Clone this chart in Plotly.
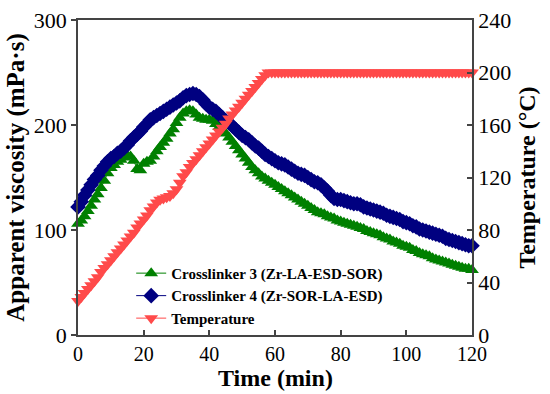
import plotly.graph_objects as go

time_min = list(range(0, 121))

temperature = [26, 29, 32, 35, 38, 41, 44, 48, 51, 54, 57, 60, 63, 66, 69, 72, 75, 78, 82, 85,
               88, 91, 95, 98, 101, 103, 104, 105, 106, 108, 111, 116, 121, 124, 128, 131, 134, 137, 140, 143,
               146, 149, 152, 155, 158, 161, 165, 168, 171, 174, 177, 180, 183, 186, 189, 192, 195, 198, 200, 200,
               200, 200, 200, 200, 200, 200, 200, 200, 200, 200, 200, 200, 200, 200, 200, 200, 200, 200, 200, 200,
               200, 200, 200, 200, 200, 200, 200, 200, 200, 200, 200, 200, 200, 200, 200, 200, 200, 200, 200, 200,
               200, 200, 200, 200, 200, 200, 200, 200, 200, 200, 200, 200, 200, 200, 200, 200, 200, 200, 200, 200,
               200]

crosslinker3 = [106, 109, 113, 118, 123, 129, 134, 140, 147, 154, 159, 162, 165, 167, 169, 171, 170, 166, 158, 157,
                163, 165, 166, 170, 175, 179, 183, 187, 192, 196, 202, 207, 211, 213, 214, 213, 210, 207, 206, 205,
                205, 204, 201, 198, 195, 192, 188, 184, 180, 176, 172, 168, 164, 160, 157, 154, 151, 149, 147, 145,
                143, 141, 139, 137, 135, 133, 131, 129, 127, 125, 123, 121, 119, 117, 116, 115, 113, 112, 111, 109,
                108, 107, 106, 105, 104, 103, 102, 101, 99, 98, 97, 96, 95, 93, 92, 91, 89, 88, 87, 85,
                84, 83, 81, 80, 78, 77, 76, 75, 73, 72, 71, 70, 69, 68, 67, 66, 65, 64, 63, 63,
                62]

crosslinker4 = [122, 127, 133, 138, 143, 148, 152, 157, 161, 165, 168, 170, 173, 175, 178, 181, 185, 188, 191, 194,
                198, 201, 205, 207, 209, 211, 213, 215, 217, 219, 221, 223, 226, 228, 229, 230, 229, 227, 224, 220,
                217, 215, 213, 210, 207, 204, 202, 199, 196, 193, 190, 188, 186, 183, 180, 178, 175, 172, 170, 168,
                166, 164, 163, 162, 160, 158, 156, 154, 153, 152, 150, 148, 146, 145, 143, 140, 137, 133, 130, 129,
                129, 128, 127, 126, 125, 125, 124, 122, 121, 120, 119, 118, 117, 116, 114, 113, 112, 111, 110, 108,
                107, 106, 104, 103, 101, 100, 99, 98, 97, 96, 95, 94, 92, 91, 90, 89, 88, 87, 86, 85,
                85]

x_ticks = [0, 20, 40, 60, 80, 100, 120]
y_ticks = [0, 100, 200, 300]
y2_ticks = [0, 40, 80, 120, 160, 200, 240]

x_title = "Time (min)"
y_title = "Apparent viscosity (mPa·s)"
y2_title = "Temperature (°C)"

SERIF = "Liberation Serif"
AXIS_COLOR = "#444444"

fig = go.Figure()
fig.add_trace(go.Scatter(
    x=time_min, y=crosslinker3, name="Crosslinker 3 (Zr-LA-ESD-SOR)",
    mode="lines+markers", cliponaxis=False,
    line=dict(color="#008000", width=1),
    marker=dict(symbol="triangle-up", size=12, color="#008000"),
))
fig.add_trace(go.Scatter(
    x=time_min, y=crosslinker4, name="Crosslinker 4 (Zr-SOR-LA-ESD)",
    mode="lines+markers", cliponaxis=False,
    line=dict(color="#000080", width=1),
    marker=dict(symbol="diamond", size=12, color="#000080"),
))
fig.add_trace(go.Scatter(
    x=time_min, y=temperature, name="Temperature", yaxis="y2",
    mode="lines+markers", cliponaxis=False,
    line=dict(color="#FF4A4A", width=1),
    marker=dict(symbol="triangle-down", size=12, color="#FF4A4A"),
))

fig.update_layout(
    width=550, height=394,
    margin=dict(l=78, r=78, t=20, b=59, autoexpand=False),
    paper_bgcolor="white", plot_bgcolor="white",
    font=dict(family=SERIF, size=22, color="black"),
    showlegend=True,
    legend=dict(
        x=0.135, y=0.248, xanchor="left", yanchor="top",
        bgcolor="rgba(0,0,0,0)",
        font=dict(family=SERIF, size=15, color="black", weight="bold"),
        tracegroupgap=0, itemwidth=30,
    ),
    xaxis=dict(
        range=[0, 120], tickvals=x_ticks, showgrid=False, zeroline=False, automargin=False,
        showline=True, linecolor=AXIS_COLOR, linewidth=1.5, mirror=True,
        ticks="inside", ticklen=5, tickcolor=AXIS_COLOR, tickwidth=1.5,
        tickfont=dict(family=SERIF, size=20),
    ),
    yaxis=dict(
        range=[0, 300], tickvals=y_ticks, showgrid=False, zeroline=False, automargin=False,
        showline=True, linecolor=AXIS_COLOR, linewidth=1.5,
        ticks="outside", ticklen=5, tickcolor=AXIS_COLOR, tickwidth=1.5,
        tickfont=dict(family=SERIF, size=22),
        title=dict(text="<b>" + y_title + "</b>", font=dict(family=SERIF, size=25), standoff=2),
    ),
    yaxis2=dict(
        range=[0, 240], tickvals=y2_ticks, overlaying="y", side="right", automargin=False,
        showgrid=False, zeroline=False,
        showline=True, linecolor=AXIS_COLOR, linewidth=1.5,
        ticks="inside", ticklen=5, tickcolor=AXIS_COLOR, tickwidth=1.5,
        tickfont=dict(family=SERIF, size=22),
        title=dict(text="<b>" + y2_title + "</b>", font=dict(family=SERIF, size=24), standoff=8),
    ),
    annotations=[dict(
        text="<b>" + x_title + "</b>", xref="paper", yref="paper", x=0.5, y=-0.137,
        xanchor="center", yanchor="middle", showarrow=False,
        font=dict(family=SERIF, size=24, color="black"),
    )],
)

fig.write_html("out.html", config={"displayModeBar": False})

# remove the browser's default page margin so the figure sits at the window origin
with open("out.html", "r", encoding="utf-8") as fh:
    html = fh.read()
html = html.replace("<body>", '<body style="margin:0;padding:0;overflow:hidden">', 1)
with open("out.html", "w", encoding="utf-8") as fh:
    fh.write(html)
